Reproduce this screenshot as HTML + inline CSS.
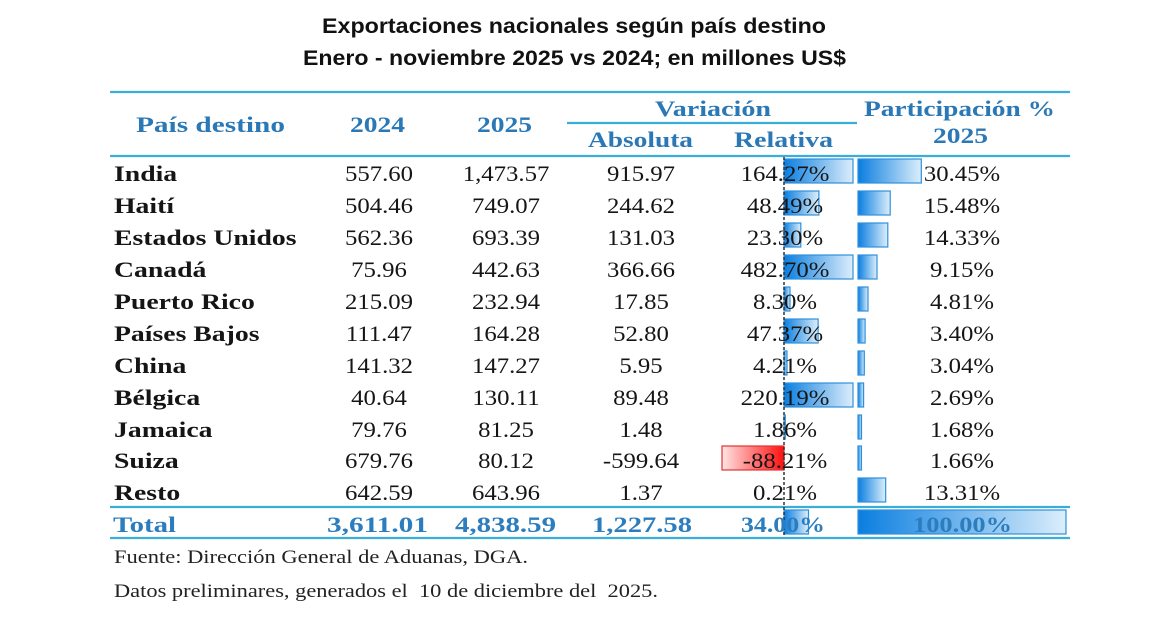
<!DOCTYPE html>
<html><head><meta charset="utf-8"><style>
html,body{margin:0;padding:0;background:#fff;}
svg{display:block;}
.t{font-family:"Liberation Sans",sans-serif;font-weight:bold;font-size:21px;fill:#111;}
.h{font-family:"Liberation Serif",serif;font-weight:bold;font-size:22px;fill:#2A78B6;}
.n{font-family:"Liberation Serif",serif;font-weight:bold;font-size:22px;fill:#151515;}
.d{font-family:"Liberation Serif",serif;font-size:22px;fill:#151515;}
.tot{font-family:"Liberation Serif",serif;font-weight:bold;font-size:22px;fill:#2C7DBE;}
.f{font-family:"Liberation Serif",serif;font-size:19px;fill:#222;}
</style></head><body>
<svg width="1170" height="627" viewBox="0 0 1170 627" xmlns="http://www.w3.org/2000/svg">
<defs>
<linearGradient id="gb" x1="0" y1="0" x2="1" y2="0"><stop offset="0" stop-color="#0A7EE0"/><stop offset="1" stop-color="#DCEEFB"/></linearGradient>
<linearGradient id="gr" x1="0" y1="0" x2="1" y2="0"><stop offset="0" stop-color="#FFE4E4"/><stop offset="1" stop-color="#FF1010"/></linearGradient>
</defs>
<rect width="1170" height="627" fill="#fff"/>
<!-- Title -->
<text class="t" x="322" y="33" textLength="504" lengthAdjust="spacingAndGlyphs">Exportaciones nacionales según país destino</text>
<text class="t" x="303" y="65" textLength="543" lengthAdjust="spacingAndGlyphs">Enero - noviembre 2025 vs 2024; en millones US$</text>

<!-- lines -->
<g stroke="#3AAED8" stroke-width="2.2">
<line x1="110" y1="92" x2="1070" y2="92"/>
<line x1="567" y1="123" x2="857" y2="123"/>
<line x1="110" y1="156" x2="1070" y2="156"/>
<line x1="110" y1="507" x2="1070" y2="507"/>
<line x1="110" y1="538" x2="1070" y2="538"/>
</g>

<!-- headers -->
<text class="h" x="136" y="132" textLength="149" lengthAdjust="spacingAndGlyphs">País destino</text>
<text class="h" x="350" y="132" textLength="55" lengthAdjust="spacingAndGlyphs">2024</text>
<text class="h" x="477" y="132" textLength="55" lengthAdjust="spacingAndGlyphs">2025</text>
<text class="h" x="655" y="116" textLength="116" lengthAdjust="spacingAndGlyphs">Variación</text>
<text class="h" x="864" y="116" textLength="191" lengthAdjust="spacingAndGlyphs">Participación %</text>
<text class="h" x="588" y="147" textLength="105" lengthAdjust="spacingAndGlyphs">Absoluta</text>
<text class="h" x="734" y="147" textLength="99" lengthAdjust="spacingAndGlyphs">Relativa</text>
<text class="h" x="933" y="143" textLength="55" lengthAdjust="spacingAndGlyphs">2025</text>

<!-- relative bars -->
<g stroke="#2E90DC" stroke-width="1.2">
<rect x="784" y="159" width="69" height="24" fill="url(#gb)"/>
<rect x="784" y="191" width="34.9" height="24" fill="url(#gb)"/>
<rect x="784" y="223" width="16.8" height="24" fill="url(#gb)"/>
<rect x="784" y="255" width="69" height="24" fill="url(#gb)"/>
<rect x="784" y="287" width="6" height="24" fill="url(#gb)"/>
<rect x="784" y="319" width="34.1" height="24" fill="url(#gb)"/>
<rect x="784" y="351" width="3" height="24" fill="url(#gb)"/>
<rect x="784" y="383" width="69" height="24" fill="url(#gb)"/>
<rect x="784" y="415" width="1.3" height="24" fill="url(#gb)"/>
<rect x="784" y="510" width="24.5" height="24" fill="url(#gb)"/>
</g>
<rect x="722" y="446" width="62" height="24" fill="url(#gr)" stroke="#E03434" stroke-width="1.2"/>

<!-- participation bars -->
<g stroke="#2E90DC" stroke-width="1.2">
<rect x="858" y="159" width="63.3" height="24" fill="url(#gb)"/>
<rect x="858" y="191" width="32.2" height="24" fill="url(#gb)"/>
<rect x="858" y="223" width="29.8" height="24" fill="url(#gb)"/>
<rect x="858" y="255" width="19" height="24" fill="url(#gb)"/>
<rect x="858" y="287" width="10" height="24" fill="url(#gb)"/>
<rect x="858" y="319" width="7.1" height="24" fill="url(#gb)"/>
<rect x="858" y="351" width="6.3" height="24" fill="url(#gb)"/>
<rect x="858" y="383" width="5.6" height="24" fill="url(#gb)"/>
<rect x="858" y="415" width="3.5" height="24" fill="url(#gb)"/>
<rect x="858" y="446" width="3.45" height="24" fill="url(#gb)"/>
<rect x="858" y="478" width="27.7" height="24" fill="url(#gb)"/>
<rect x="858" y="510" width="208" height="24" fill="url(#gb)"/>
</g>

<!-- axis -->
<line x1="784" y1="157" x2="784" y2="537" stroke="#333" stroke-width="1.5" stroke-dasharray="3,2"/>

<!-- country names -->
<g transform="translate(114 0) scale(1.26 1)">
<text class="n" x="0" y="181">India</text>
<text class="n" x="0" y="213">Haití</text>
<text class="n" x="0" y="245">Estados Unidos</text>
<text class="n" x="0" y="277">Canadá</text>
<text class="n" x="0" y="309">Puerto Rico</text>
<text class="n" x="0" y="341">Países Bajos</text>
<text class="n" x="0" y="373">China</text>
<text class="n" x="0" y="405">Bélgica</text>
<text class="n" x="0" y="437">Jamaica</text>
<text class="n" x="0" y="468">Suiza</text>
<text class="n" x="0" y="500">Resto</text>
</g>

<!-- 2024 -->
<g transform="translate(379 0) scale(1.126 1)" text-anchor="middle">
<text class="d" x="0" y="181">557.60</text>
<text class="d" x="0" y="213">504.46</text>
<text class="d" x="0" y="245">562.36</text>
<text class="d" x="0" y="277">75.96</text>
<text class="d" x="0" y="309">215.09</text>
<text class="d" x="0" y="341">111.47</text>
<text class="d" x="0" y="373">141.32</text>
<text class="d" x="0" y="405">40.64</text>
<text class="d" x="0" y="437">79.76</text>
<text class="d" x="0" y="468">679.76</text>
<text class="d" x="0" y="500">642.59</text>
</g>

<!-- 2025 -->
<g transform="translate(506 0) scale(1.126 1)" text-anchor="middle">
<text class="d" x="0" y="181">1,473.57</text>
<text class="d" x="0" y="213">749.07</text>
<text class="d" x="0" y="245">693.39</text>
<text class="d" x="0" y="277">442.63</text>
<text class="d" x="0" y="309">232.94</text>
<text class="d" x="0" y="341">164.28</text>
<text class="d" x="0" y="373">147.27</text>
<text class="d" x="0" y="405">130.11</text>
<text class="d" x="0" y="437">81.25</text>
<text class="d" x="0" y="468">80.12</text>
<text class="d" x="0" y="500">643.96</text>
</g>

<!-- Absoluta -->
<g transform="translate(641 0) scale(1.126 1)" text-anchor="middle">
<text class="d" x="0" y="181">915.97</text>
<text class="d" x="0" y="213">244.62</text>
<text class="d" x="0" y="245">131.03</text>
<text class="d" x="0" y="277">366.66</text>
<text class="d" x="0" y="309">17.85</text>
<text class="d" x="0" y="341">52.80</text>
<text class="d" x="0" y="373">5.95</text>
<text class="d" x="0" y="405">89.48</text>
<text class="d" x="0" y="437">1.48</text>
<text class="d" x="0" y="468">-599.64</text>
<text class="d" x="0" y="500">1.37</text>
</g>

<!-- Relativa -->
<g transform="translate(785 0) scale(1.126 1)" text-anchor="middle">
<text class="d" x="0" y="181">164.27%</text>
<text class="d" x="0" y="213">48.49%</text>
<text class="d" x="0" y="245">23.30%</text>
<text class="d" x="0" y="277">482.70%</text>
<text class="d" x="0" y="309">8.30%</text>
<text class="d" x="0" y="341">47.37%</text>
<text class="d" x="0" y="373">4.21%</text>
<text class="d" x="0" y="405">220.19%</text>
<text class="d" x="0" y="437">1.86%</text>
<text class="d" x="0" y="468">-88.21%</text>
<text class="d" x="0" y="500">0.21%</text>
</g>

<!-- Participación -->
<g transform="translate(962 0) scale(1.126 1)" text-anchor="middle">
<text class="d" x="0" y="181">30.45%</text>
<text class="d" x="0" y="213">15.48%</text>
<text class="d" x="0" y="245">14.33%</text>
<text class="d" x="0" y="277">9.15%</text>
<text class="d" x="0" y="309">4.81%</text>
<text class="d" x="0" y="341">3.40%</text>
<text class="d" x="0" y="373">3.04%</text>
<text class="d" x="0" y="405">2.69%</text>
<text class="d" x="0" y="437">1.68%</text>
<text class="d" x="0" y="468">1.66%</text>
<text class="d" x="0" y="500">13.31%</text>
</g>

<!-- Total row -->
<text class="tot" x="113" y="532" textLength="63" lengthAdjust="spacingAndGlyphs">Total</text>
<text class="tot" x="327" y="532" textLength="101" lengthAdjust="spacingAndGlyphs">3,611.01</text>
<text class="tot" x="455" y="532" textLength="101" lengthAdjust="spacingAndGlyphs">4,838.59</text>
<text class="tot" x="592" y="532" textLength="100" lengthAdjust="spacingAndGlyphs">1,227.58</text>
<text class="tot" x="741" y="532" textLength="84" lengthAdjust="spacingAndGlyphs">34.00%</text>
<text class="tot" x="913" y="532" textLength="99" lengthAdjust="spacingAndGlyphs">100.00%</text>

<!-- footer -->
<text class="f" x="114" y="563" textLength="414" lengthAdjust="spacingAndGlyphs">Fuente: Dirección General de Aduanas, DGA.</text>
<text class="f" x="114" y="597" textLength="544" lengthAdjust="spacingAndGlyphs" xml:space="preserve">Datos preliminares, generados el  10 de diciembre del  2025.</text>
</svg>
</body></html>
